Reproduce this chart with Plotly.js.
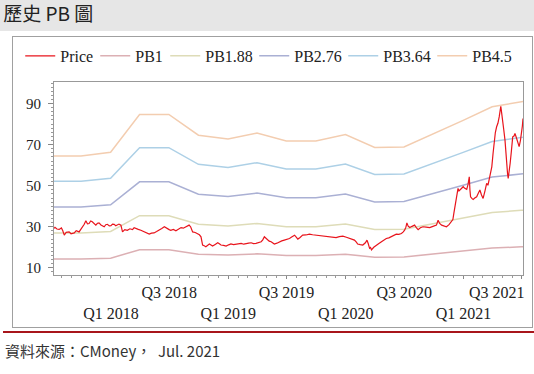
<!DOCTYPE html>
<html>
<head>
<meta charset="utf-8">
<script src="https://cdn.plot.ly/plotly-3.0.1.min.js"></script>
<style>
  html, body { margin: 0; padding: 0; width: 534px; height: 374px; background: #ffffff; overflow: hidden; }
  #band { position: absolute; left: 0; top: 0; width: 534px; height: 31px; background: #e6e6e6; }
  #box { position: absolute; left: 12px; top: 36px; width: 519px; height: 290px; border: 1px solid #a0a0a0; background: #ffffff; }
  #rule { position: absolute; left: 3px; top: 331px; width: 531px; height: 2px; background: #a8151b; }
  #chart { position: absolute; left: 0; top: 0; width: 534px; height: 374px; }
</style>
</head>
<body>
<div id="band"></div>
<div id="box"></div>
<div id="rule"></div>
<div id="chart"></div>
<script>
// ---- Data ----
const bandDates = ['2017-07-08','2017-09-30','2017-12-31','2018-03-31','2018-06-30','2018-09-30','2018-12-31','2019-03-31','2019-06-30','2019-09-30','2019-12-31','2020-03-31','2020-06-30','2020-09-30','2020-12-31','2021-03-31','2021-06-30','2021-07-05'];
const pb1   = [14.3,14.3,14.7,18.8,18.8,16.6,16.2,16.8,16.0,16.0,16.6,15.2,15.3,16.7,18.2,19.6,20.2,20.2];
const pb188 = [26.9,26.9,27.7,35.4,35.4,31.2,30.4,31.6,30.0,30.0,31.3,28.7,28.8,31.4,34.2,36.9,38.0,38.0];
const pb276 = [39.6,39.6,40.7,51.9,51.9,45.8,44.7,46.4,44.1,44.1,45.9,42.1,42.3,46.1,50.2,54.2,55.8,55.8];
const pb364 = [52.2,52.2,53.6,68.5,68.5,60.4,58.9,61.2,58.1,58.1,60.6,55.5,55.7,60.8,66.2,71.5,73.5,73.6];
const pb45  = [64.5,64.5,66.3,84.7,84.7,74.6,72.8,75.6,71.8,71.8,74.9,68.6,68.9,75.2,81.8,88.4,90.9,91.0];

const priceDates = ['2017-07-08','2017-07-11','2017-07-17','2017-07-24','2017-07-31','2017-08-04','2017-08-09','2017-08-15','2017-08-24','2017-08-30','2017-09-09','2017-09-15','2017-09-24','2017-09-29','2017-10-05','2017-10-10','2017-10-15','2017-10-20','2017-10-25','2017-10-30','2017-11-04','2017-11-10','2017-11-15','2017-11-20','2017-11-25','2017-12-01','2017-12-06','2017-12-11','2017-12-16','2017-12-21','2017-12-27','2018-01-01','2018-01-06','2018-01-11','2018-01-16','2018-01-21','2018-01-26','2018-02-01','2018-02-06','2018-02-13','2018-02-21','2018-03-01','2018-03-09','2018-03-14','2018-03-19','2018-03-27','2018-04-04','2018-04-12','2018-04-20','2018-04-25','2018-04-30','2018-05-07','2018-05-15','2018-05-23','2018-05-31','2018-06-08','2018-06-16','2018-06-21','2018-06-26','2018-07-01','2018-07-06','2018-07-14','2018-07-22','2018-07-30','2018-08-07','2018-08-14','2018-08-22','2018-08-27','2018-09-01','2018-09-06','2018-09-12','2018-09-20','2018-09-27','2018-10-03','2018-10-08','2018-10-11','2018-10-13','2018-10-18','2018-10-23','2018-10-29','2018-11-03','2018-11-08','2018-11-13','2018-11-21','2018-11-29','2018-12-04','2018-12-09','2018-12-17','2018-12-25','2019-01-02','2019-01-09','2019-01-17','2019-01-25','2019-02-02','2019-02-10','2019-02-18','2019-02-25','2019-03-05','2019-03-13','2019-03-20','2019-03-28','2019-04-05','2019-04-13','2019-04-18','2019-04-23','2019-04-28','2019-05-03','2019-05-08','2019-05-14','2019-05-19','2019-05-24','2019-06-01','2019-06-09','2019-06-16','2019-06-24','2019-07-02','2019-07-10','2019-07-18','2019-07-26','2019-07-31','2019-08-05','2019-08-12','2019-08-20','2019-08-30','2019-09-10','2019-09-20','2019-10-01','2019-10-11','2019-10-22','2019-11-01','2019-11-12','2019-11-22','2019-12-02','2019-12-12','2019-12-23','2020-01-03','2020-01-13','2020-01-20','2020-01-28','2020-02-03','2020-02-07','2020-02-15','2020-02-23','2020-03-02','2020-03-07','2020-03-11','2020-03-15','2020-03-18','2020-03-21','2020-03-28','2020-04-05','2020-04-13','2020-04-21','2020-04-28','2020-05-06','2020-05-14','2020-05-22','2020-05-30','2020-06-06','2020-06-14','2020-06-22','2020-06-27','2020-07-02','2020-07-06','2020-07-09','2020-07-13','2020-07-18','2020-07-25','2020-08-02','2020-08-08','2020-08-13','2020-08-20','2020-08-28','2020-09-07','2020-09-18','2020-09-28','2020-10-09','2020-10-14','2020-10-19','2020-10-25','2020-11-01','2020-11-09','2020-11-17','2020-11-25','2020-11-29','2020-12-02','2020-12-06','2020-12-10','2020-12-13','2020-12-15','2020-12-18','2020-12-21','2020-12-26','2020-12-31','2021-01-05','2021-01-11','2021-01-15','2021-01-19','2021-01-21','2021-01-23','2021-01-27','2021-01-31','2021-02-05','2021-02-11','2021-02-16','2021-02-21','2021-02-26','2021-03-03','2021-03-09','2021-03-14','2021-03-18','2021-03-22','2021-03-26','2021-03-30','2021-04-03','2021-04-06','2021-04-10','2021-04-14','2021-04-18','2021-04-22','2021-04-25','2021-04-27','2021-04-30','2021-05-03','2021-05-06','2021-05-10','2021-05-13','2021-05-15','2021-05-18','2021-05-20','2021-05-23','2021-05-26','2021-05-30','2021-06-03','2021-06-07','2021-06-10','2021-06-14','2021-06-17','2021-06-20','2021-06-23','2021-06-27','2021-07-01','2021-07-03','2021-07-05'];
const priceValues = [29.2,29.7,28.9,28.7,29.4,28.2,25.9,27.3,27.5,26.6,27.0,28.1,27.5,28.6,30.0,31.2,32.9,31.4,31.6,32.8,32.4,31.5,30.8,31.7,31.9,30.9,30.3,30.0,31.0,31.2,30.4,30.5,31.3,31.2,30.5,30.8,31.3,30.8,27.5,28.6,28.3,29.0,28.6,29.5,29.1,28.7,28.3,27.6,27.0,26.8,26.4,26.9,27.0,27.7,28.3,29.2,30.0,29.4,29.1,28.6,28.3,28.7,28.0,28.9,29.6,29.3,30.0,30.4,30.8,29.9,27.5,27.2,26.7,26.1,25.1,23.4,21.1,20.7,20.3,21.0,21.6,21.1,20.6,21.4,22.2,21.7,21.1,20.9,20.6,21.2,21.6,21.3,21.4,21.6,21.9,21.5,21.6,22.0,22.2,21.8,21.9,22.3,22.7,23.6,25.1,24.4,23.5,23.0,22.7,22.1,21.6,22.0,22.7,23.1,23.5,23.8,24.3,25.1,25.9,25.0,24.0,24.8,25.9,26.0,26.4,26.1,25.9,25.6,25.4,25.3,25.1,24.9,24.7,25.2,25.4,24.9,24.3,24.0,23.5,22.5,21.6,21.3,21.1,22.2,23.5,21.7,19.5,19.9,18.7,20.0,21.1,21.8,22.7,23.4,24.3,24.6,25.1,25.6,26.4,26.3,26.7,27.4,28.3,29.8,31.9,30.3,29.6,30.2,30.8,29.4,28.6,29.5,30.0,29.8,29.6,30.2,30.8,33.2,31.6,30.8,30.4,30.0,31.0,32.4,33.5,36.5,40.1,43.0,46.5,48.7,47.5,47.9,48.8,49.5,48.7,48.2,50.5,54.3,48.0,44.6,43.8,43.3,44.0,44.6,46.3,47.9,45.5,43.8,47.6,51.1,50.2,52.7,55.4,59.2,65.8,72.2,75.9,78.7,80.4,83.5,86.2,88.7,85.0,82.0,77.5,72.2,64.0,59.2,55.8,53.5,56.5,60.8,67.0,73.8,74.2,75.4,73.6,72.2,70.3,69.0,72.0,75.4,79.0,82.7];

const xTickVals = ['2018-01-01','2018-07-01','2019-01-01','2019-07-01','2020-01-01','2020-07-01','2021-01-01','2021-07-01'];
const xTickText = ['\u00a0<br>Q1 2018','Q3 2018','\u00a0<br>Q1 2019','Q3 2019','\u00a0<br>Q1 2020','Q3 2020','\u00a0<br>Q1 2021',''];
const lastTickVal = ['2021-07-01'];
const lastTickText = ['Q3 2021'];
const yTickVals = [10, 30, 50, 70, 90];

const serif = 'Liberation Serif, Times New Roman, serif';
const cjk = 'Noto Sans CJK TC, Noto Sans, sans-serif';

const bands = [
  {name: 'PB1',    y: pb1,   color: '#dcb0b4', rank: 2, lw: 25, xa: 'x2'},
  {name: 'PB1.88', y: pb188, color: '#dedcb8', rank: 3, lw: 44, xa: 'x'},
  {name: 'PB2.76', y: pb276, color: '#aab0d4', rank: 4, lw: 44, xa: 'x'},
  {name: 'PB3.64', y: pb364, color: '#add0e6', rank: 5, lw: 44, xa: 'x'},
  {name: 'PB4.5',  y: pb45,  color: '#f3cdb0', rank: 6, lw: 40, xa: 'x'}
];

const traces = bands.map(b => ({
  type: 'scatter', mode: 'lines', name: b.name, x: bandDates, y: b.y, xaxis: b.xa, yaxis: 'y',
  line: {color: b.color, width: 1.5}, legendrank: b.rank, legendwidth: b.lw, hoverinfo: 'skip'
}));
traces.push({
  type: 'scatter', mode: 'lines', name: 'Price', x: priceDates, y: priceValues,
  line: {color: '#e8141c', width: 1.2}, legendrank: 1, legendwidth: 30
});

const xRange = ['2017-07-08', '2021-07-05'];
const tickFont = {family: serif, size: 16, color: '#222222'};

const layout = {
  width: 534, height: 374,
  margin: {l: 54, r: 11, t: 82, b: 99, pad: 0},
  paper_bgcolor: 'rgba(0,0,0,0)',
  plot_bgcolor: '#ffffff',
  title: {
    text: '歷史 PB 圖',
    font: {family: cjk, size: 19, color: '#222222'},
    x: 0.006, xanchor: 'left', xref: 'container',
    y: 0.962, yanchor: 'middle', yref: 'container'
  },
  showlegend: true,
  legend: {
    orientation: 'h', xref: 'paper', x: -0.072, xanchor: 'left',
    yref: 'paper', y: 1.135, yanchor: 'middle',
    font: {family: serif, size: 16, color: '#222222'},
    bgcolor: 'rgba(0,0,0,0)', itemwidth: 30
  },
  xaxis: {
    type: 'date',
    range: xRange,
    tickmode: 'array', tickvals: xTickVals, ticktext: xTickText,
    ticks: 'outside', ticklen: 3, tickcolor: '#888888',
    minor: {tickmode: 'linear', tick0: '2017-08-01', dtick: 'M1', ticks: 'outside', ticklen: 2, tickcolor: '#999999'},
    showline: true, mirror: true, linecolor: '#999999', linewidth: 1,
    showgrid: false, zeroline: false,
    tickfont: tickFont,
    tickangle: 0
  },
  xaxis2: {
    type: 'date',
    overlaying: 'x', matches: 'x', anchor: 'y', side: 'bottom',
    range: xRange,
    tickmode: 'array', tickvals: lastTickVal, ticktext: lastTickText,
    ticklabelshift: -25,
    ticks: 'outside', ticklen: 3, tickcolor: 'rgba(0,0,0,0)',
    showline: false, showgrid: false, zeroline: false,
    tickfont: tickFont,
    tickangle: 0
  },
  yaxis: {
    range: [6.5, 100.5],
    tickmode: 'array', tickvals: yTickVals,
    ticks: 'outside', ticklen: 5, tickcolor: '#888888',
    minor: {tickmode: 'linear', tick0: 0, dtick: 2, ticks: 'outside', ticklen: 2, tickcolor: '#999999'},
    showline: true, mirror: true, linecolor: '#999999', linewidth: 1,
    showgrid: false, zeroline: false,
    ticklabelstandoff: 4,
    tickfont: {family: serif, size: 15, color: '#222222'}
  },
  annotations: [{
    text: '資料來源：CMoney，  Jul. 2021',
    xref: 'paper', yref: 'paper', x: -0.109, y: -0.389,
    xanchor: 'left', yanchor: 'middle', showarrow: false,
    font: {family: cjk, size: 15, color: '#333333'}
  }]
};

Plotly.newPlot('chart', traces, layout, {staticPlot: true, displayModeBar: false});
</script>
</body>
</html>
